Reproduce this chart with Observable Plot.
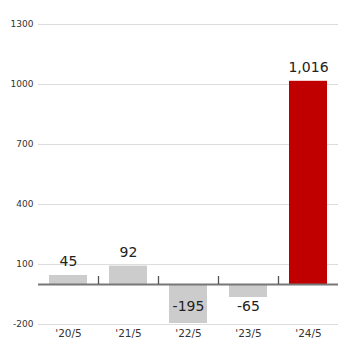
<!DOCTYPE html>
<html>
<head>
<meta charset="utf-8">
<script src="https://cdn.jsdelivr.net/npm/d3@7"></script>
<script src="https://cdn.jsdelivr.net/npm/@observablehq/plot@0.6"></script>
<style>
  html, body { margin: 0; padding: 0; background: #fff; }
  #chart svg { display: block; font-family: "DejaVu Sans", Verdana, sans-serif; }
</style>
</head>
<body>
<div id="chart"></div>
<script>
const categories = ["'20/5", "'21/5", "'22/5", "'23/5", "'24/5"];
const values = [45, 92, -195, -65, 1016];
const highlight = [false, false, false, false, true];
const yTicks = [-200, 100, 400, 700, 1000, 1300];

const data = categories.map((c, i) => ({ cat: c, value: values[i], hl: highlight[i] }));
const fmt = d => d3.format(",")(d).replace("−", "-");

const chart = Plot.plot({
  width: 340,
  height: 340,
  marginLeft: 38,
  marginRight: 2,
  marginTop: 24,
  marginBottom: 16,
  style: { fontFamily: "DejaVu Sans, Verdana, sans-serif", background: "#fff" },
  x: { domain: categories, paddingInner: 0.36, paddingOuter: 0.18, label: null },
  y: { domain: [-200, 1300], label: null },
  marks: [
    Plot.gridY(yTicks, { stroke: "#dddddd", strokeOpacity: 1 }),
    Plot.axisY(yTicks, { tickSize: 0, tickPadding: 5, fontSize: 9, fill: "#333", label: null, tickFormat: d => String(d) }),
    Plot.barY(data, { x: "cat", y: "value", fill: d => d.hl ? "#c00000" : "#cccccc" }),
    Plot.ruleY([0], { stroke: "#777777", strokeWidth: 2 }),
    Plot.ruleX(categories.slice(0, -1), { x: d => d, dx: 30, y1: 0, y2: 40, stroke: "#555", strokeWidth: 1.3 }),
    Plot.text(data.filter(d => d.value >= 0), { x: "cat", y: "value", text: d => fmt(d.value), dy: -14, fontSize: 14, fill: "#222" }),
    Plot.text(data.filter(d => d.value < 0), { x: "cat", y: () => 0, text: d => fmt(d.value), dy: 22, fontSize: 14, fill: "#222" }),
    Plot.axisX({ tickSize: 0, tickPadding: 5, fontSize: 10.5, fill: "#333", label: null })
  ]
});
document.getElementById("chart").appendChild(chart);
</script>
</body>
</html>
